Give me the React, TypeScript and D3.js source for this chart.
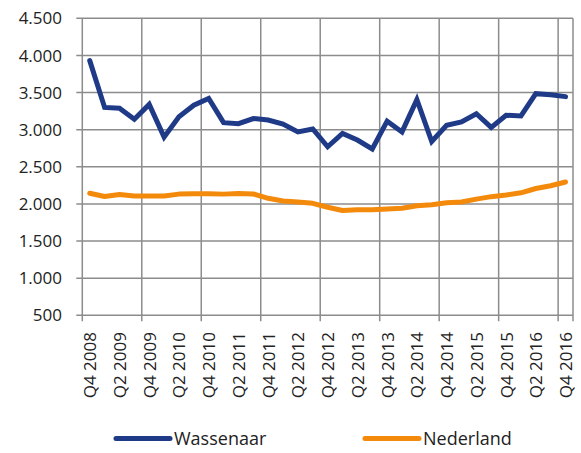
import React from "react";
import * as d3 from "d3";

const quarters: string[] = [];
const years = [2008, 2009, 2010, 2011, 2012, 2013, 2014, 2015, 2016];
for (const y of years) {
  for (const q of [1, 2, 3, 4]) {
    if (y === 2008 && q < 4) continue;
    quarters.push(`Q${q} ${y}`);
  }
}

const wassenaar = [
  3930, 3300, 3290, 3140, 3340, 2900, 3175, 3330, 3420, 3095, 3080, 3150,
  3130, 3075, 2970, 3010, 2770, 2950, 2860, 2740, 3115, 2970, 3405, 2840,
  3060, 3105, 3215, 3030, 3195, 3185, 3485, 3470, 3445,
];
const nederland = [
  2143, 2100, 2128, 2107, 2107, 2107, 2132, 2137, 2138, 2132, 2142, 2134,
  2076, 2040, 2025, 2008, 1955, 1912, 1922, 1923, 1932, 1941, 1975, 1990,
  2015, 2026, 2065, 2098, 2120, 2150, 2208, 2245, 2295,
];
const yTicks = [500, 1000, 1500, 2000, 2500, 3000, 3500, 4000, 4500];

const seriesNames = ["Wassenaar", "Nederland"];
const colors = ["#1f3a87", "#f38a0b"];

const fmt = (v: number) => d3.format(",")(v).replace(/,/g, ".");

export default function App() {
  const W = 581, H = 453;
  const left = 82.3, right = 573, top = 18.3, bottom = 315.3;
  const x = d3.scaleBand<string>().domain(quarters).range([left, right]).padding(0);
  const y = d3.scaleLinear().domain([500, 4500]).range([bottom, top]);
  const cx = (q: string) => (x(q) as number) + x.bandwidth() / 2;
  const line = d3
    .line<number>()
    .x((_, i) => cx(quarters[i]))
    .y((d) => y(d));
  const gridX = quarters
    .map((q, i) => ({ q, i }))
    .filter((d) => d.i % 4 === 0)
    .map((d) => x(d.q) as number)
    .concat([right]);
  const labelQs = quarters.filter((_, i) => i % 2 === 0);
  const font = "'Open Sans', sans-serif";
  const gray = "#8c8c8c";
  return (
    <svg
      width={W}
      height={H}
      style={{ position: "absolute", left: 0, top: 0, fontFamily: font }}
    >
      <rect width={W} height={H} fill="#fff" />
      {yTicks.map((t) => (
        <g key={t}>
          <line x1={left - 6} x2={right} y1={y(t)} y2={y(t)} stroke={gray} strokeWidth={1.5} />
          <text x={62} y={y(t)} dy="0.36em" textAnchor="end" fontSize={17} fill="#222">
            {fmt(t)}
          </text>
        </g>
      ))}
      {gridX.map((gx, i) => (
        <line key={i} x1={gx} x2={gx} y1={top} y2={bottom + 6} stroke={gray} strokeWidth={1.5} />
      ))}
      {labelQs.map((q) => (
        <text
          key={q}
          transform={`translate(${cx(q) + 6.5},${332}) rotate(-90)`}
          textAnchor="end"
          fontSize={17}
          fill="#222"
        >
          {q}
        </text>
      ))}
      <path d={line(nederland) || ""} fill="none" stroke={colors[1]} strokeWidth={5} strokeLinejoin="round" strokeLinecap="round" />
      <path d={line(wassenaar) || ""} fill="none" stroke={colors[0]} strokeWidth={5} strokeLinejoin="miter" strokeLinecap="round" />
      {seriesNames.map((name, i) => {
        const lx = i === 0 ? 116 : 365;
        return (
          <g key={name}>
            <line x1={lx} x2={lx + 54} y1={438.5} y2={438.5} stroke={colors[i]} strokeWidth={5} strokeLinecap="round" />
            <text x={lx + 58} y={445} fontSize={18} fill="#222">
              {name}
            </text>
          </g>
        );
      })}
    </svg>
  );
}
